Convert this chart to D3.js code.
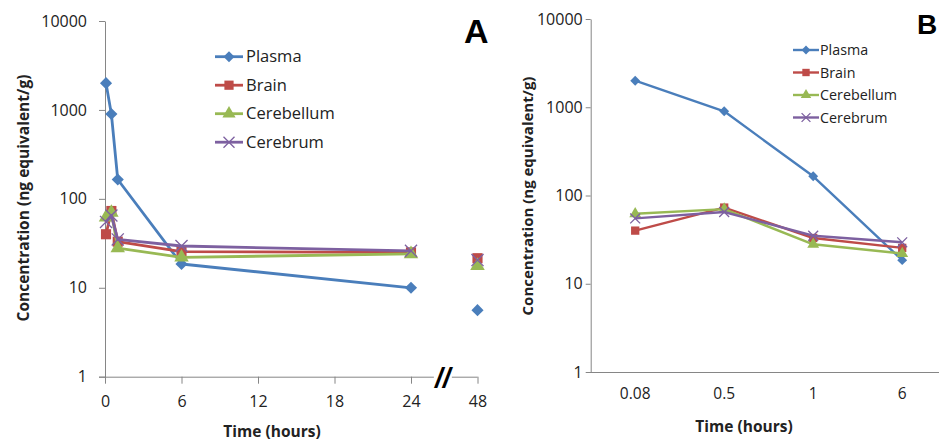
<!DOCTYPE html>
<html><head><meta charset="utf-8">
<script src="https://cdn.jsdelivr.net/npm/d3@7"></script>
<style>body{margin:0;background:#fff} svg{display:block} text{font-family:"Open Sans",sans-serif}</style>
</head><body><svg id="c" width="939" height="441"></svg>
<script>
// ---- data ----
const timesA = [0.08, 0.5, 1, 6, 24, 48];
const timeLabelsB = ["0.08", "0.5", "1", "6"];
const seriesNames = ["Plasma", "Brain", "Cerebellum", "Cerebrum"];
const plasma = [2000, 900, 165, 18.5, 10, 5.6];
const brain = [40, 73, 33, 25.5, 25, 21.5];
const cerebellum = [62, 70, 28, 22, 24, 17.7];
const cerebrum = [55, 65, 35, 29.5, 26, 20.5];
const xTicksA = [0, 6, 12, 18, 24, 48];
const yTicks = [1, 10, 100, 1000, 10000];
const colors = ["#4a7ebb", "#be4b48", "#98b954", "#7d60a0"];
const markers = ["diamond", "square", "triangle", "x"];

const seriesValues = [plasma, brain, cerebellum, cerebrum];
const svg = d3.select("#c");
const axisColor = "#868686";

function marker(g, type, x, y, s, color) {
  if (type === "x") {
    const h = s * 0.55;
    g.append("path").attr("d", `M${x-h},${y-h}L${x+h},${y+h}M${x-h},${y+h}L${x+h},${y-h}`)
      .attr("stroke", color).attr("stroke-width", 1.3).attr("fill", "none");
    return;
  }
  if (type === "diamond") {
    const h = s * 0.55;
    g.append("path").attr("d", `M${x},${y-h}L${x+h},${y}L${x},${y+h}L${x-h},${y}Z`).attr("fill", color);
    return;
  }
  const sym = {square: d3.symbolSquare, triangle: d3.symbolTriangle}[type];
  const area = {square: s * s * 0.85, triangle: s * s * 0.75}[type];
  g.append("path").attr("d", d3.symbol().type(sym).size(area)())
    .attr("transform", `translate(${x},${y})`).attr("fill", color);
}

function styleAxis(g, fs) {
  g.selectAll(".domain").attr("stroke", axisColor);
  g.selectAll(".tick line").attr("stroke", axisColor);
  g.selectAll(".tick text").attr("fill", "#222").style("font-size", fs + "px")
    .style("font-family", "'Open Sans',sans-serif");
}

// ---------------- Panel A ----------------
(function () {
  const g = svg.append("g");
  const x = d3.scaleLinear().domain([0, 24, 48]).range([105, 411, 477.5]);
  const y = d3.scaleLog().domain([1, 10000]).range([376.7, 21]);

  const ya = g.append("g").attr("transform", `translate(${x(0)},0)`)
    .call(d3.axisLeft(y).tickValues(yTicks).tickFormat(d3.format("d")).tickSize(6).tickPadding(12).tickSizeOuter(0));
  styleAxis(ya, 16);

  const xa = g.append("g").attr("transform", `translate(0,${y(1)})`)
    .call(d3.axisBottom(x).tickValues(xTicksA).tickSize(7).tickPadding(12).tickSizeOuter(0));
  styleAxis(xa, 16);
  xa.select(".domain").remove();
  g.append("line").attr("x1", x(0) - 6).attr("x2", x(48)).attr("y1", y(1) + 0.5).attr("y2", y(1) + 0.5)
    .attr("stroke", axisColor);
  // axis break
  const bx = x(35.5);
  g.append("rect").attr("x", bx - 9).attr("y", y(1) - 3).attr("width", 18).attr("height", 6).attr("fill", "#fff");
  g.append("text").attr("x", bx).attr("y", y(1) + 10).attr("text-anchor", "middle")
    .style("font-size", "28px").style("font-weight", "bold").style("font-style", "italic")
    .style("font-family", "'Liberation Sans',Arial,sans-serif").text("//");

  const line = d3.line().x(d => x(d[0])).y(d => y(d[1]));
  seriesValues.forEach((vals, i) => {
    const pts = timesA.map((t, j) => [t, vals[j]]);
    g.append("path").attr("d", line(pts.slice(0, 5))).attr("fill", "none")
      .attr("stroke", colors[i]).attr("stroke-width", 2.8).attr("stroke-linejoin", "round");
    pts.forEach(p => marker(g, markers[i], x(p[0]), y(p[1]), 11, colors[i]));
  });

  // legend
  seriesNames.forEach((n, i) => {
    const ly = 56.7 + i * 28.5;
    g.append("line").attr("x1", 215).attr("x2", 243).attr("y1", ly).attr("y2", ly)
      .attr("stroke", colors[i]).attr("stroke-width", 2.8);
    marker(g, markers[i], 229, ly, 10, colors[i]);
    g.append("text").attr("x", 246).attr("y", ly).attr("dy", "0.35em")
      .style("font-size", "16.5px").attr("fill", "#222").text(n);
  });

  g.append("text").attr("transform", `translate(29,198) rotate(-90)`).attr("text-anchor", "middle")
    .style("font-size", "15.5px").style("font-weight", "bold").attr("fill", "#222")
    .text("Concentration (ng equivalent/g)");
  g.append("text").attr("x", 272).attr("y", 437).attr("text-anchor", "middle")
    .style("font-size", "15.5px").style("font-weight", "bold").attr("fill", "#222").text("Time (hours)");
  g.append("text").attr("x", 464).attr("y", 43)
    .style("font-size", "34px").style("font-weight", "bold")
    .style("font-family", "'Liberation Sans',Arial,sans-serif").text("A");
})();

// ---------------- Panel B ----------------
(function () {
  const g = svg.append("g");
  const x = d3.scaleBand().domain(timeLabelsB).range([590.7, 946.7]).padding(0);
  const cx = d => x(d) + x.bandwidth() / 2;
  const y = d3.scaleLog().domain([1, 10000]).range([372, 19]);

  const ya = g.append("g").attr("transform", `translate(590.7,0)`)
    .call(d3.axisLeft(y).tickValues(yTicks).tickFormat(d3.format("d")).tickSize(5).tickPadding(3).tickSizeOuter(0));
  styleAxis(ya, 16);

  const xa = g.append("g").attr("transform", `translate(0,${y(1)})`)
    .call(d3.axisBottom(x).tickSize(0).tickPadding(16).tickSizeOuter(0));
  styleAxis(xa, 15.5);
  xa.select(".domain").remove();
  g.append("line").attr("x1", 586).attr("x2", 939).attr("y1", y(1) + 0.5).attr("y2", y(1) + 0.5)
    .attr("stroke", axisColor);

  const line = d3.line().x(d => cx(d[0])).y(d => y(d[1]));
  seriesValues.forEach((vals, i) => {
    const pts = timeLabelsB.map((t, j) => [t, vals[j]]);
    g.append("path").attr("d", line(pts)).attr("fill", "none")
      .attr("stroke", colors[i]).attr("stroke-width", 2.4).attr("stroke-linejoin", "round");
    pts.forEach(p => marker(g, markers[i], cx(p[0]), y(p[1]), 9, colors[i]));
  });

  seriesNames.forEach((n, i) => {
    const ly = 50 + i * 22.5;
    g.append("line").attr("x1", 793).attr("x2", 819).attr("y1", ly).attr("y2", ly)
      .attr("stroke", colors[i]).attr("stroke-width", 2.4);
    marker(g, markers[i], 806, ly, 8, colors[i]);
    g.append("text").attr("x", 820).attr("y", ly).attr("dy", "0.35em")
      .style("font-size", "14.3px").attr("fill", "#222").text(n);
  });

  g.append("text").attr("transform", `translate(533,196) rotate(-90)`).attr("text-anchor", "middle")
    .style("font-size", "15px").style("font-weight", "bold").attr("fill", "#222")
    .text("Concentration (ng equivalent/g)");
  g.append("text").attr("x", 744).attr("y", 432).attr("text-anchor", "middle")
    .style("font-size", "15.5px").style("font-weight", "bold").attr("fill", "#222").text("Time (hours)");
  g.append("text").attr("x", 917).attr("y", 34)
    .style("font-size", "28px").style("font-weight", "bold")
    .style("font-family", "'Liberation Sans',Arial,sans-serif").text("B");
})();
</script></body></html>
